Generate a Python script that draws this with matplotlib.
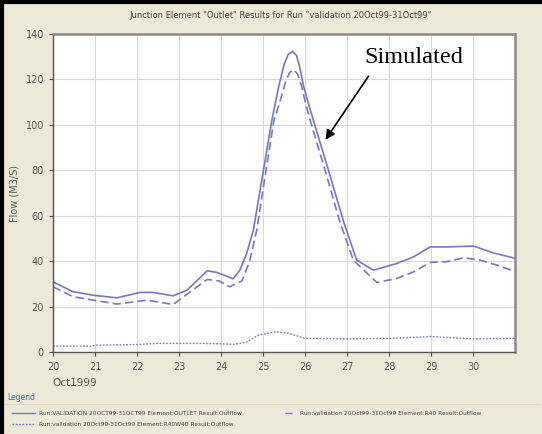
import matplotlib
matplotlib.use('Agg')
from matplotlib import pyplot as plt

# days in October 1999 (fractional) and flow in m3/s
solid_days = [20.0, 20.48, 20.95, 21.52, 22.07, 22.38, 22.86, 23.19, 23.67, 23.9, 24.29, 24.45,
              24.61, 24.77, 25.01, 25.21, 25.37, 25.5, 25.6, 25.7, 25.8, 25.88, 25.96, 26.08,
              26.2, 26.56, 26.91, 27.23, 27.63, 28.18, 28.58, 28.98, 29.37, 30.01, 30.48, 31.0]
solid_flow = [31.0, 26.7, 25.2, 24.0, 26.4, 26.4, 24.9, 27.4, 35.9, 35.2, 32.4, 36.2,
              43.5, 53.7, 80.0, 102.0, 116.6, 126.5, 131.0, 132.4, 130.5, 125.0, 117.5, 109.5,
              102.0, 80.0, 58.0, 40.6, 36.2, 39.1, 42.0, 46.4, 46.4, 46.8, 43.8, 41.4]

dashed_days = [20.0, 20.48, 21.52, 22.24, 22.86, 23.67, 23.95, 24.21, 24.5, 24.68, 24.85, 25.07,
               25.26, 25.39, 25.53, 25.63, 25.72, 25.82, 25.92, 26.02, 26.14, 26.48, 26.82, 27.15,
               27.71, 28.18, 28.58, 28.98, 29.37, 29.78, 30.17, 30.57, 31.0]
dashed_flow = [28.9, 24.5, 21.3, 23.0, 21.1, 32.1, 31.5, 28.9, 31.5, 40.0, 53.7, 80.0,
               102.0, 109.4, 118.5, 123.0, 124.3, 122.5, 117.0, 109.0, 101.0, 80.0, 58.0, 40.6,
               30.8, 32.5, 35.4, 39.6, 39.9, 41.6, 40.6, 38.4, 35.6]

dotted_days = [20.0, 20.9, 21.0, 22.0, 22.5, 23.5, 24.0, 24.3, 24.6, 24.9, 25.3, 25.6,
               26.0, 27.0, 28.0, 29.0, 29.5, 30.0, 31.0]
dotted_flow = [2.8, 2.8, 3.2, 3.5, 4.0, 4.0, 3.8, 3.6, 4.5, 7.7, 9.1, 8.5,
               6.2, 6.0, 6.2, 7.0, 6.5, 6.0, 6.2]

day_ticks = list(range(20, 31))
flow_ticks = [0, 20, 40, 60, 80, 100, 120, 140]

title = 'Junction Element "Outlet" Results for Run "validation 20Oct99-31Oct99"'
legend_labels = ['Run:VALIDATION 20OCT99-31OCT99 Element:OUTLET Result:Outflow',
                 'Run:validation 20Oct99-31Oct99 Element:R40 Result:Outflow',
                 'Run:validation 20Oct99-31Oct99 Element:R40W40 Result:Outflow']

line_color = '#7676d2'
bg = '#ece9d8'
grey = '#555555'

fig = plt.figure(figsize=(5.42, 4.34), dpi=100, facecolor=bg)
ax = fig.add_axes([0.0978, 0.1878, 0.8524, 0.7339])
ax.set_facecolor('white')

ax.plot(solid_days, solid_flow, color=line_color, lw=1.2, ls='-')
ax.plot(dashed_days, dashed_flow, color=line_color, lw=1.2, ls=(0, (5, 2.5)))
ax.plot(dotted_days, dotted_flow, color=line_color, lw=1.0, ls=(0, (1.2, 1.2)))

ax.set_xlim(20, 31)
ax.set_ylim(0, 140)
ax.set_xticks(day_ticks)
ax.set_yticks(flow_ticks)
ax.tick_params(labelsize=7, colors=grey, length=3, width=0.8)
ax.grid(True, color='#d9d9d9', lw=0.8)
ax.set_axisbelow(True)
for side in ('left', 'bottom'):
    ax.spines[side].set_color('#555555')
    ax.spines[side].set_linewidth(1.0)
for side in ('top', 'right'):
    ax.spines[side].set_color('#8a8a8a')
    ax.spines[side].set_linewidth(1.8)

ax.set_ylabel('Flow (M3/S)', fontsize=7, color=grey, labelpad=4)
fig.text(0.517, 0.965, title, fontsize=6, color='#444444', ha='center', va='center')
fig.text(0.097, 0.118, 'Oct1999', fontsize=7.5, color=grey, ha='left', va='center')

# annotation
ax.annotate('', xy=(26.45, 92.5), xytext=(27.55, 122.5),
            arrowprops=dict(arrowstyle='-|>', color='black', lw=1.2, mutation_scale=14))
ax.text(27.42, 127.4, 'Simulated', fontsize=17.5, family='Liberation Serif', ha='left', va='baseline')

# legend area
fig.text(0.013, 0.083, 'Legend', fontsize=5.5, color='#3a6ab0', ha='left', va='center')
fig.add_artist(plt.Line2D([0.005, 0.995], [0.068, 0.068], color='#d8d4c0', lw=0.6))
fig.add_artist(plt.Line2D([0.022, 0.065], [0.048, 0.048], color=line_color, lw=1.0))
fig.text(0.072, 0.048, legend_labels[0], fontsize=4.2, color='#444444', ha='left', va='center')
fig.add_artist(plt.Line2D([0.525, 0.54], [0.048, 0.048], color=line_color, lw=1.0, ls=(0, (5, 2.5))))
fig.text(0.553, 0.048, legend_labels[1], fontsize=4.2, color='#444444', ha='left', va='center')
fig.add_artist(plt.Line2D([0.022, 0.065], [0.023, 0.023], color=line_color, lw=1.0, ls=(0, (1.2, 1.2))))
fig.text(0.072, 0.023, legend_labels[2], fontsize=4.2, color='#444444', ha='left', va='center')

# dark frame on top and left edges of the screenshot
fig.add_artist(plt.Line2D([0, 1], [0.995, 0.995], color='black', lw=3))
fig.add_artist(plt.Line2D([0.004, 0.004], [0, 1], color='black', lw=3))

fig.savefig('out.png', dpi=100, facecolor=bg)
